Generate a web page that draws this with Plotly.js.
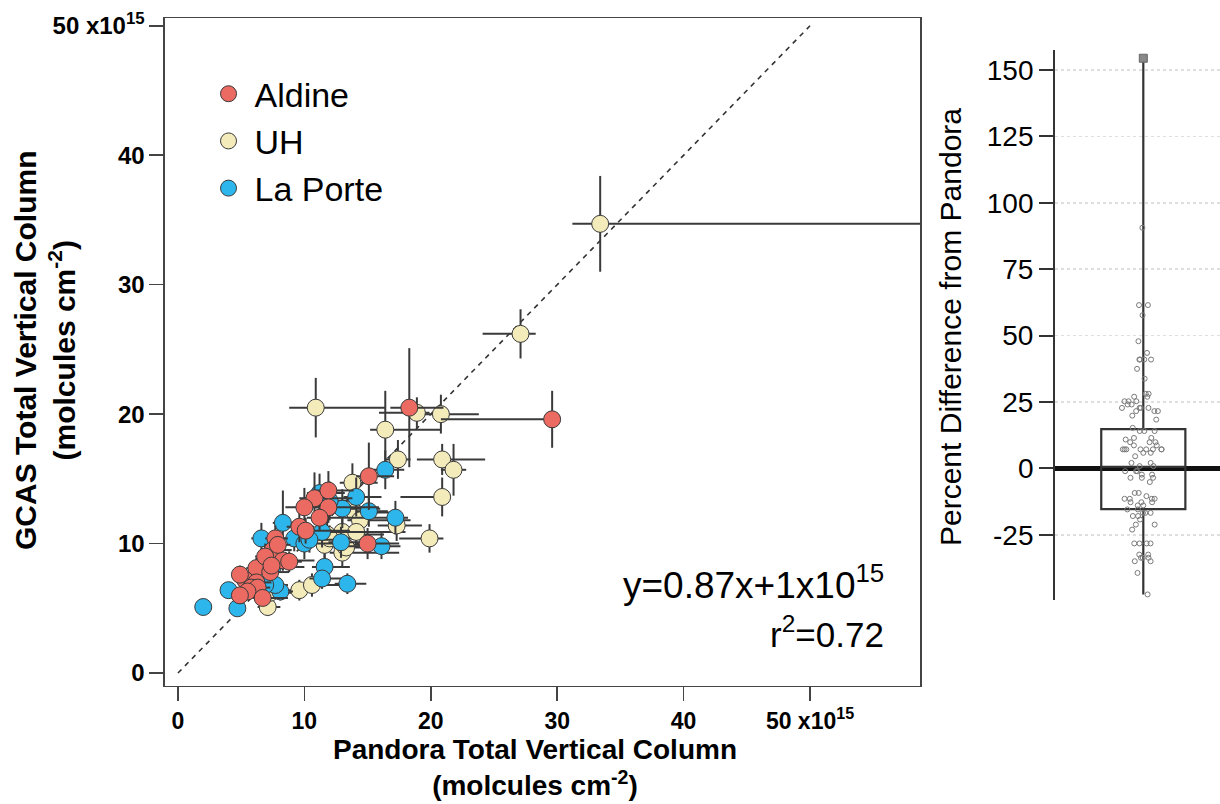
<!DOCTYPE html>
<html>
<head>
<meta charset="utf-8">
<script src="https://cdn.plot.ly/plotly-3.0.1.min.js"></script>
<style>
html,body{margin:0;padding:0;background:#fff;}
#chart{width:1220px;height:804px;}
</style>
</head>
<body>
<div id="chart"></div>
<script>
// ---- Data: GCAS vs Pandora total vertical column (x10^15 molecules cm^-2) ----
const aldineX  = [29.6, 18.3, 15.1, 15.0, 10.8, 11.9, 11.9, 11.2, 10.0, 9.6, 10.1, 7.7, 7.5, 8.3, 8.8, 6.2, 5.3, 6.2, 5.8, 6.3, 5.5, 6.7, 4.9, 7.3, 6.9, 7.4, 7.9, 4.9];
const aldineY  = [19.6, 20.5, 15.2, 10.0, 13.5, 14.1, 12.8, 12.0, 12.8, 11.3, 11.0, 10.4, 9.5, 8.7, 8.6, 8.1, 7.2, 7.0, 6.6, 6.6, 6.3, 5.8, 6.0, 7.8, 9.0, 8.3, 9.9, 7.6];
const aldineXp = [0.2, 2.7, 2.0, 2.5, 3.0, 2.0, 4.0, 2.0, 1.5, 1.2, 3.5, 1.0, 1.5, 2.5, 1.0, 1.0, 0.8, 1.2, 0.8, 1.0, 0.8, 2.0, 0.6, 1.5, 1.0, 1.2, 1.0, 0.7];
const aldineXm = [8.8, 1.5, 1.0, 1.0, 1.2, 1.0, 1.0, 1.0, 1.5, 1.0, 1.0, 0.8, 1.0, 0.8, 1.0, 0.8, 0.6, 0.8, 0.6, 0.8, 0.6, 0.8, 0.5, 0.8, 0.8, 0.8, 0.8, 0.5];
const aldineYe = [2.2, 4.6, 2.6, 1.2, 2.0, 1.5, 1.2, 1.0, 1.5, 1.2, 1.0, 1.0, 0.9, 0.8, 0.8, 0.8, 0.7, 0.7, 0.6, 0.6, 0.6, 0.6, 0.6, 0.7, 1.0, 0.8, 0.9, 0.7];

const uhX  = [33.4, 27.1, 10.9, 20.8, 18.9, 16.4, 17.4, 20.9, 21.8, 20.9, 19.9, 13.8, 9.6, 10.6, 7.1, 14.0, 14.4, 17.3, 11.8, 13.0, 11.6, 13.0, 14.1, 12.0, 13.3, 7.3];
const uhY  = [34.7, 26.2, 20.5, 20.0, 20.1, 18.8, 16.5, 16.5, 15.7, 13.6, 10.4, 14.7, 6.4, 6.8, 5.1, 12.4, 11.8, 11.4, 10.7, 10.9, 9.9, 9.3, 10.9, 10.4, 9.7, 6.2];
const uhXp = [26.0, 1.2, 5.5, 3.0, 1.0, 4.4, 1.0, 3.4, 1.0, 0.2, 1.1, 2.0, 1.5, 2.5, 1.0, 3.5, 4.0, 2.0, 4.5, 5.0, 3.5, 4.5, 2.0, 3.0, 1.5, 2.0];
const uhXm = [2.2, 3.0, 2.1, 2.7, 3.0, 1.2, 1.0, 2.0, 1.0, 3.3, 2.4, 1.0, 1.0, 1.0, 0.8, 1.2, 1.0, 1.5, 1.0, 1.0, 1.5, 1.0, 1.0, 1.2, 1.0, 1.0];
const uhYe = [3.7, 1.9, 2.3, 1.5, 1.2, 3.0, 1.5, 1.2, 2.0, 1.5, 1.1, 1.5, 0.8, 0.9, 0.7, 1.2, 1.0, 1.2, 1.2, 1.0, 1.0, 1.1, 1.0, 1.0, 0.9, 1.0];

const lpX  = [16.4, 14.1, 15.1, 17.2, 13.0, 8.3, 11.2, 6.6, 9.2, 10.0, 7.5, 11.6, 11.4, 13.4, 12.9, 8.1, 7.7, 4.0, 4.7, 2.0, 16.1, 11.4, 6.9, 10.4, 12.0];
const lpY  = [15.7, 13.6, 12.5, 12.0, 12.7, 11.6, 13.9, 10.4, 10.4, 10.0, 8.2, 8.2, 7.3, 6.9, 10.1, 6.3, 6.8, 6.4, 5.0, 5.1, 9.8, 10.9, 6.8, 10.3, 13.3];
const lpXp = [1.5, 2.0, 1.5, 1.0, 3.0, 1.0, 2.0, 0.8, 1.2, 2.5, 2.5, 2.0, 2.0, 1.5, 3.5, 1.0, 1.0, 0.6, 0.6, 0.3, 1.5, 4.0, 1.0, 3.0, 2.0];
const lpXm = [1.0, 1.0, 1.0, 4.0, 1.0, 0.8, 1.0, 0.8, 1.0, 1.0, 0.8, 1.0, 1.0, 1.0, 1.0, 0.8, 0.8, 0.5, 0.5, 0.3, 3.0, 1.0, 0.8, 1.0, 1.0];
const lpYe = [1.5, 1.5, 1.2, 1.3, 1.5, 2.5, 1.5, 1.2, 1.0, 1.2, 1.0, 1.0, 0.8, 0.8, 1.2, 0.7, 0.7, 0.6, 0.6, 0.6, 1.0, 1.2, 0.7, 1.0, 1.5];

const oneToOne = [0, 50];

const xTickVals = [0, 10, 20, 30, 40, 50];
const xTickText = ['0', '10', '20', '30', '40', '50 x10<sup>15</sup>'];
const yTickVals = [0, 10, 20, 30, 40, 50];
const yTickText = ['0', '10', '20', '30', '40', '50 x10<sup>15</sup>'];

// ---- Data: percent difference from Pandora ----
const pctDiff = [90.6, 61.5, 61.5, 57.7, 47.9, 43.5, 41.0, 41.0, 41.0, 41.0, 37.5, 33.8,
  28.1, 28.1, 27.0, 27.0, 25.3, 25.3, 25.3, 24.1, 24.1, 22.8, 22.8, 22.8, 22.8, 21.6, 21.6, 21.6,
  19.9, 18.4, 15.3, 14.1, 14.1, 14.1, 11.5, 11.5, 10.9, 9.9, 9.9, 9.9, 8.7, 8.7,
  7.2, 7.2, 7.2, 7.2, 7.2, 7.2, 7.2, 7.2, 5.9, 5.9, 4.6, 2.1, 2.1, 0.9, 0.9,
  -1.0, -1.0, -1.0, -2.3, -2.3, -3.5, -3.5, -3.5, -5.1, -9.2, -9.2, -10.4,
  -11.4, -11.4, -11.4, -11.4, -12.7, -12.7, -12.7, -13.9, -13.9, -15.4, -15.4,
  -16.7, -16.7, -16.7, -17.9, -17.9, -19.2, -21.1, -21.1, -23.0,
  -28.2, -28.2, -28.2, -28.2, -32.4, -32.4, -33.6, -33.6, -33.6, -34.9, -34.9, -39.3, -47.4];
const pctMax = [154.4];
const boxQ1 = [-15.3], boxMedian = [0.6], boxQ3 = [14.8], boxLow = [-47.4], boxHigh = [154.4];
const pctTickVals = [150, 125, 100, 75, 50, 25, 0, -25];
const pctTickText = ['150', '125', '100', '75', '50', '25', '0', '-25'];

const FONT = 'Liberation Sans, Arial, Helvetica, sans-serif';
const BOLD_FONT = 'Liberation Sans Narrow, Liberation Sans, Arial, sans-serif';
const ebColor = '#3a3a3a';

function series(name, x, y, xp, xm, ye, color, rank) {
  return {
    type: 'scatter', mode: 'markers', name: name, x: x, y: y,
    xaxis: 'x', yaxis: 'y', legendrank: rank, cliponaxis: true,
    marker: {size: 17, color: color, line: {color: '#3a3a3a', width: 1}},
    error_x: {type: 'data', symmetric: false, array: xp, arrayminus: xm, color: ebColor, thickness: 2, width: 0},
    error_y: {type: 'data', symmetric: true, array: ye, color: ebColor, thickness: 2, width: 0}
  };
}

const boxCenter = 0.535;
const data = [
  {type: 'scatter', mode: 'lines', x: oneToOne, y: oneToOne, xaxis: 'x', yaxis: 'y', showlegend: false,
   line: {color: '#333', width: 1.6, dash: '5px,5px'}, hoverinfo: 'skip'},
  series('UH', uhX, uhY, uhXp, uhXm, uhYe, '#F4EBBB', 2),
  series('La Porte', lpX, lpY, lpXp, lpXm, lpYe, '#2DB6EC', 3),
  series('Aldine', aldineX, aldineY, aldineXp, aldineXm, aldineYe, '#EB6A61', 1),
  {type: 'box', xaxis: 'x2', yaxis: 'y2', showlegend: false, x: [boxCenter], width: 0.51,
   q1: boxQ1, median: boxMedian, q3: boxQ3, lowerfence: boxLow, upperfence: boxHigh,
   boxpoints: false, fillcolor: 'rgba(255,255,255,0)', line: {color: '#333', width: 2.2}, whiskerwidth: 0},
  {type: 'box', xaxis: 'x2', yaxis: 'y2', showlegend: false, y: pctDiff, x0: boxCenter, width: 0.51,
   boxpoints: 'all', jitter: 0.55, pointpos: 0, fillcolor: 'rgba(0,0,0,0)', line: {color: 'rgba(0,0,0,0)', width: 0},
   marker: {symbol: 'circle-open', size: 5, color: '#7a7a7a', line: {width: 1}}},
  {type: 'scatter', mode: 'markers', xaxis: 'x2', yaxis: 'y2', showlegend: false,
   x: pctMax.map(() => boxCenter), y: pctMax,
   marker: {symbol: 'square', size: 8, color: '#888', line: {color: '#666', width: 1}}}
];

const layout = {
  width: 1220, height: 804,
  margin: {l: 0, r: 0, t: 0, b: 0},
  paper_bgcolor: '#fff', plot_bgcolor: '#fff',
  font: {family: FONT, color: '#000'},
  showlegend: true,
  legend: {x: 0.166, y: 0.919, xanchor: 'left', yanchor: 'top', bgcolor: 'rgba(0,0,0,0)',
           font: {family: FONT, size: 34, color: '#000'}, itemwidth: 42, tracegroupgap: 0},
  boxmode: 'overlay',
  xaxis: {domain: [0.1352, 0.7541], range: [-1.03, 58.7], anchor: 'y',
    tickvals: xTickVals, ticktext: xTickText, ticks: 'outside', ticklen: 14, tickwidth: 1.5, tickcolor: '#444',
    showline: true, mirror: true, linecolor: '#444', linewidth: 1.5, showgrid: false, zeroline: false,
    tickfont: {family: BOLD_FONT, size: 23, weight: 'bold'}},
  yaxis: {domain: [0.1468, 0.9776], range: [-1.0, 50.6], anchor: 'x',
    tickvals: yTickVals, ticktext: yTickText, ticks: 'outside', ticklen: 14, tickwidth: 1.5, tickcolor: '#444',
    showline: true, mirror: true, linecolor: '#444', linewidth: 1.5, showgrid: false, zeroline: false,
    tickfont: {family: BOLD_FONT, size: 24, weight: 'bold'}},
  xaxis2: {domain: [0.8648, 1.0], range: [0, 1], anchor: 'y2', visible: false},
  yaxis2: {domain: [0.2537, 0.9378], range: [-49.5, 157.5], anchor: 'x2',
    tickvals: pctTickVals, ticktext: pctTickText, ticks: 'outside', ticklen: 14, tickwidth: 2, tickcolor: '#333',
    showline: true, linecolor: '#333', linewidth: 2,
    showgrid: true, gridcolor: '#dedede', gridwidth: 1.5, griddash: 'dot',
    zeroline: true, zerolinecolor: '#111', zerolinewidth: 5,
    tickfont: {family: FONT, size: 28}},
  annotations: [
    {xref: 'paper', yref: 'paper', x: 886 / 1220, y: 1 - 582 / 804, xanchor: 'right', yanchor: 'middle', showarrow: false,
     text: 'y=0.87x+1x10<sup>15</sup>', font: {family: FONT, size: 37}},
    {xref: 'paper', yref: 'paper', x: 886 / 1220, y: 1 - 632 / 804, xanchor: 'right', yanchor: 'middle', showarrow: false,
     text: 'r<sup>2</sup>=0.72', font: {family: FONT, size: 35}},
    {xref: 'paper', yref: 'paper', x: 45 / 1220, y: 1 - 350 / 804, xanchor: 'center', yanchor: 'middle', showarrow: false,
     textangle: -90, text: 'GCAS Total Vertical Column<br>(molcules cm<sup>-2</sup>)',
     font: {family: BOLD_FONT, size: 30, weight: 'bold'}},
    {xref: 'paper', yref: 'paper', x: 535 / 1220, y: 1 - 767 / 804, xanchor: 'center', yanchor: 'middle', showarrow: false,
     text: 'Pandora Total Vertical Column<br>(molcules cm<sup>-2</sup>)',
     font: {family: BOLD_FONT, size: 28, weight: 'bold'}},
    {xref: 'paper', yref: 'paper', x: 950 / 1220, y: 1 - 327 / 804, xanchor: 'center', yanchor: 'middle', showarrow: false,
     textangle: -90, text: 'Percent Difference from Pandora', font: {family: FONT, size: 30}}
  ]
};

Plotly.newPlot('chart', data, layout, {displayModeBar: false, staticPlot: true});
</script>
</body>
</html>
